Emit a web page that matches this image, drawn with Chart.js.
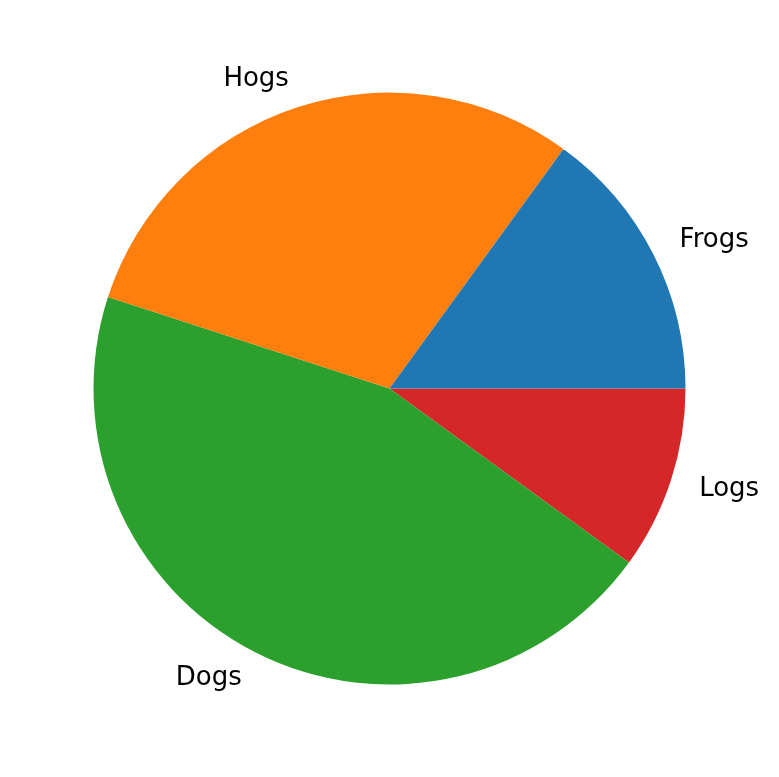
<!DOCTYPE html>
<html>
<head>
<meta charset="utf-8">
<script src="https://cdn.jsdelivr.net/npm/chart.js@4/dist/chart.umd.min.js"></script>
<style>
html,body{margin:0;padding:0;background:#fff;}
canvas{display:block;}
</style>
</head>
<body>
<canvas id="c" width="779" height="777"></canvas>
<script>
// Matplotlib draws counterclockwise from 3 o'clock; Chart.js draws clockwise,
// so the series is listed in reverse order.
const labels = ["Logs", "Dogs", "Hogs", "Frogs"];
const values = [10, 45, 30, 15];
const colors = ["#d62728", "#2ca02c", "#ff7f0e", "#1f77b4"];

const labelPlugin = {
  id: 'outerLabels',
  afterDatasetsDraw(chart) {
    const ctx = chart.ctx;
    const meta = chart.getDatasetMeta(0);
    ctx.save();
    ctx.font = '26px "DejaVu Sans"';
    ctx.fillStyle = '#000';
    ctx.textBaseline = 'middle';
    meta.data.forEach((arc, i) => {
      const p = arc.getProps(['x','y','startAngle','endAngle','outerRadius'], true);
      const mid = (p.startAngle + p.endAngle) / 2;
      const r = p.outerRadius * 1.1;
      const px = p.x + r * Math.cos(mid);
      const py = p.y + r * Math.sin(mid);
      ctx.textAlign = Math.cos(mid) > 0 ? 'left' : 'right';
      ctx.fillText(chart.data.labels[i], px, py);
    });
    ctx.restore();
  }
};

new Chart(document.getElementById('c'), {
  type: 'pie',
  data: {
    labels: labels,
    datasets: [{
      data: values,
      backgroundColor: colors,
      borderWidth: 0
    }]
  },
  options: {
    responsive: false,
    animation: false,
    rotation: 90,
    radius: 296,
    layout: { padding: 0 },
    plugins: {
      legend: { display: false },
      tooltip: { enabled: false }
    }
  },
  plugins: [labelPlugin]
});
</script>
</body>
</html>
